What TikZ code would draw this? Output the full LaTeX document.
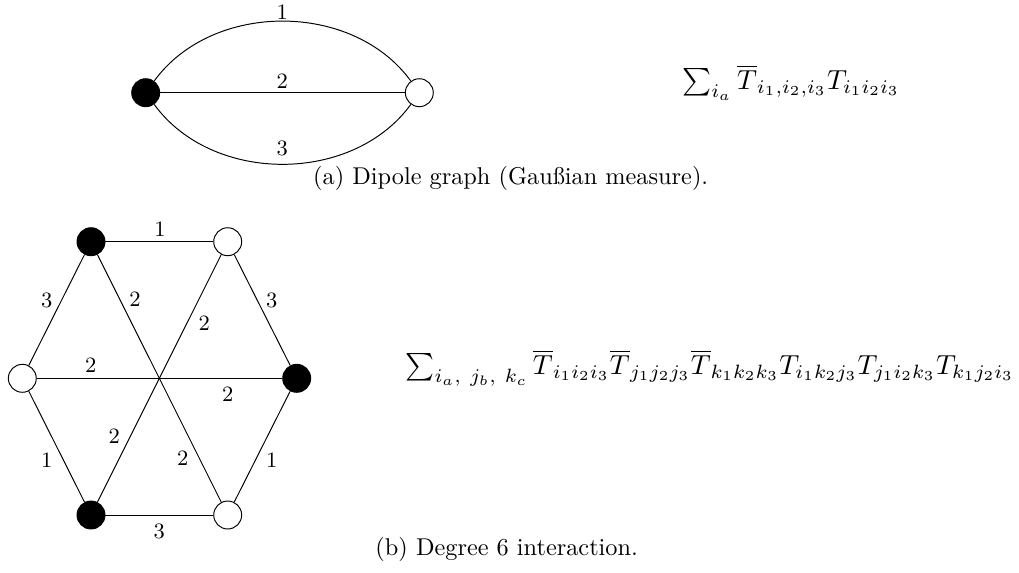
\documentclass[tikz,border=0pt]{standalone}
\usepackage{amsmath}
\usepackage{graphicx}
\begin{document}
\begin{tikzpicture}[x=0.4115pt,y=-0.4115pt,
  vtx/.style={circle,draw,line width=0.4pt,minimum size=11.5pt,inner sep=0pt},
  blk/.style={vtx,fill=black},
  wht/.style={vtx,fill=white},
  lbl/.style={font=\small,inner sep=0pt},
  txt/.style={anchor=base west,inner sep=0pt},
  conn/.style={line width=0.4pt}]
\useasboundingbox (0,0) rectangle (1019,572);
% (a) dipole
\node[blk] (d1) at (145.7,92.7) {};
\node[wht] (d2) at (419.3,92.7) {};
\draw[conn] (d1) .. controls (212.2,1.1) and (352.8,1.1) .. (d2) node[lbl] at (282.3,12.7) {1};
\draw[conn] (d1) -- (d2) node[lbl] at (282.3,81.3) {2};
\draw[conn] (d1) .. controls (212.2,184.3) and (352.8,184.3) .. (d2) node[lbl] at (282.3,148.3) {3};
\node[txt] (fa) at (681.7,89) {\scalebox{1.133}{$\sum_{i_a}\overline{T}_{i_1,i_2,i_3}T_{i_1i_2i_3}$}};
\node[txt] (ca) at (312.7,184) {(a) Dipole graph (Gau{\ss}ian measure).};
% (b) degree 6
\node[blk] (A) at (91,241.7) {};
\node[wht] (B) at (227.7,241.7) {};
\node[wht] (WL) at (22.3,378.3) {};
\node[blk] (KR) at (296.7,378.3) {};
\node[blk] (KBL) at (91,515) {};
\node[wht] (WBR) at (227.7,515) {};
\draw[conn] (A) -- (B) node[lbl] at (160,229) {1};
\draw[conn] (A) -- (WL) node[lbl] at (46.7,300) {3};
\draw[conn] (A) -- (WBR) node[lbl] at (135,299.3) {2} node[lbl] at (182.7,458.3) {2};
\draw[conn] (B) -- (KR) node[lbl] at (271.7,300) {3};
\draw[conn] (B) -- (KBL) node[lbl] at (204.3,323.3) {2} node[lbl] at (114.3,436.7) {2};
\draw[conn] (WL) -- (KR) node[lbl] at (90.7,365) {2} node[lbl] at (227.7,394) {2};
\draw[conn] (WL) -- (KBL) node[lbl] at (46.7,460) {1};
\draw[conn] (KR) -- (WBR) node[lbl] at (271.7,460) {1};
\draw[conn] (KBL) -- (WBR) node[lbl] at (159.3,531.7) {3};
\node[txt] (fb) at (405,374) {\scalebox{1.133}{$\sum_{i_a,\ j_b,\ k_c}\overline{T}_{i_1i_2i_3}\overline{T}_{j_1j_2j_3}\overline{T}_{k_1k_2k_3}T_{i_1k_2j_3}T_{j_1i_2k_3}T_{k_1j_2i_3}$}};
\node[txt] (cb) at (375,555) {(b) Degree 6 interaction.};
\end{tikzpicture}
\end{document}
